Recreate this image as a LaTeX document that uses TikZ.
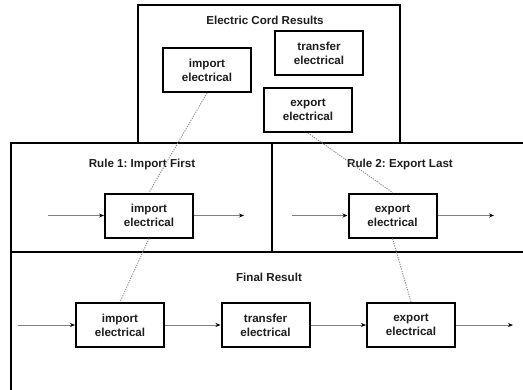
\documentclass[tikz,border=0pt]{standalone}
\usepackage{fontspec}
\setmainfont{Liberation Sans}
\usetikzlibrary{arrows.meta}
\definecolor{txt}{HTML}{1E1E1E}
\definecolor{flow}{HTML}{808080}
\definecolor{dots}{HTML}{8A8A8A}
\frenchspacing
\begin{document}
\begin{tikzpicture}[x=1pt,y=-1pt,
  procbox/.style={draw=black,line width=2pt,fill=white,minimum width=88pt,minimum height=44pt,
    inner sep=0pt,align=center,text=txt,font=\bfseries\fontsize{11.6}{14}\selectfont},
  paneltitle/.style={text=txt,font=\bfseries\fontsize{11.6}{13}\selectfont,inner sep=0pt},
  panel/.style={draw=black,line width=1.4pt},
  flowline/.style={draw=flow,line width=0.9pt,-{Stealth[length=5pt,width=4pt,fill=black,color=black]}},
  dotline/.style={draw=dots,line width=0.9pt,dash pattern=on 1.2pt off 1.2pt}]
\useasboundingbox (0,0) rectangle (523,389);
% panels
\draw[panel] (138,143) -- (138,5) -- (400,5) -- (400,143);
\draw[panel] (525,143) -- (11,143) -- (11,391);
\draw[panel] (11,252) -- (525,252);
\draw[panel] (272,143) -- (272,252);
% titles
\node[paneltitle] (t0) at (265,20) {Electric Cord Results};
\node[paneltitle] (t1) at (142,164) {Rule 1: Import First};
\node[paneltitle] (t2) at (400,164) {Rule 2: Export Last};
\node[paneltitle] (t3) at (269,277) {Final Result};
% top boxes
\node[procbox] (timp) at (207,70) {import\\electrical};
\node[procbox] (ttra) at (319,53) {transfer\\electrical};
\node[procbox] (texp) at (308,110) {export\\electrical};
% row 2
\node[procbox] (rimp) at (149,215.5) {import\\electrical};
\node[procbox] (rexp) at (392.5,215.5) {export\\electrical};
% row 3
\node[procbox] (fimp) at (120,325) {import\\electrical};
\node[procbox] (ftra) at (265.5,325) {transfer\\electrical};
\node[procbox] (fexp) at (411,325) {export\\electrical};
% free ends
\coordinate (a1) at (48,215.5);
\coordinate (a2) at (244,215.5);
\coordinate (a3) at (292,215.5);
\coordinate (a4) at (494,215.5);
\coordinate (b1) at (18,325);
\coordinate (b2) at (513,325);
% flows
\draw[flowline] (a1) -- (rimp.west);
\draw[flowline] (rimp.east) -- (a2);
\draw[flowline] (a3) -- (rexp.west);
\draw[flowline] (rexp.east) -- (a4);
\draw[flowline] (b1) -- (fimp.west);
\draw[flowline] (fimp.east) -- (ftra.west);
\draw[flowline] (ftra.east) -- (fexp.west);
\draw[flowline] (fexp.east) -- (b2);
% dotted links
\draw[dotline] (timp.south) -- (rimp.north);
\draw[dotline] (rimp.south) -- (fimp.north);
\draw[dotline] (texp.south) -- (rexp.north);
\draw[dotline] (rexp.south) -- (fexp.north);
\end{tikzpicture}
\end{document}
